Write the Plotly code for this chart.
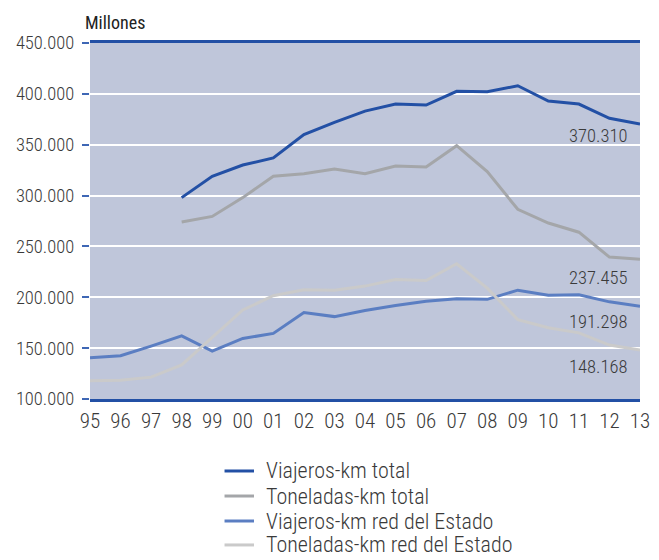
import plotly.graph_objects as go

# Years shown on the x axis and their two-digit tick labels
years = list(range(1995, 2014))
tick_labels = ["95", "96", "97", "98", "99", "00", "01", "02", "03", "04",
               "05", "06", "07", "08", "09", "10", "11", "12", "13"]

# Traffic in millions (viajeros-km / toneladas-km)
viajeros_total = [None, None, None, 298, 319, 330, 337, 360, 372, 383,
                  390, 389, 402.5, 402, 408, 393, 390, 376, 370.310]
toneladas_total = [None, None, None, 274, 279.5, 298, 319, 321.5, 326, 321.5,
                   329, 328, 349, 323.5, 286.5, 273, 264, 239.5, 237.455]
viajeros_estado = [140.5, 142.5, 152, 162, 147, 159.5, 164.5, 185, 181, 187,
                   192, 196, 198.5, 198, 207, 202, 202.5, 195.5, 191.298]
toneladas_estado = [118, 118.5, 121.5, 133.5, 160.5, 187.5, 201.5, 207.5, 207, 211,
                    217.5, 216.5, 233, 209, 178, 170, 165, 153, 148.168]

series_names = ["Viajeros-km total", "Toneladas-km total",
                "Viajeros-km red del Estado", "Toneladas-km red del Estado"]
series_values = [viajeros_total, toneladas_total, viajeros_estado, toneladas_estado]
series_colors = ["#2350a5", "#a4a6a9", "#5b7ec2", "#cacaca"]

FONT = "Roboto Condensed, Liberation Sans Narrow, sans-serif"
TEXT = "#3a3a3a"

fig = go.Figure()
for name, vals, color in zip(series_names, series_values, series_colors):
    fig.add_trace(go.Scatter(
        x=years, y=[v * 1000 if v is not None else None for v in vals],
        mode="lines", name=name,
        line=dict(color=color, width=3),
        hoverinfo="skip", showlegend=False,
    ))

# Final-year values written below the end of each line
end_offsets = [12, 19, 16, 17]
for vals, dy in zip(series_values, end_offsets):
    val = vals[-1]
    fig.add_annotation(
        x=years[-1], y=val * 1000, xref="x", yref="y",
        text=f"{val:.3f}", showarrow=False, xanchor="right", yanchor="middle",
        xshift=-11, yshift=-dy,
        font=dict(family=FONT, size=18.5, color=TEXT, weight=300),
    )

fig.add_annotation(
    x=-0.013, y=1.0, xref="paper", yref="paper", yshift=8,
    text="Millones", showarrow=False, xanchor="left", yanchor="bottom",
    font=dict(family=FONT, size=18, color="#222"),
)

# Key below the chart: a short line sample followed by the series name
key_rows = [-0.2022, -0.2725, -0.3427, -0.41]
for name, color, ky in zip(series_names, series_colors, key_rows):
    fig.add_shape(type="line", xref="paper", yref="paper",
                  x0=0.2446, x1=0.2982, y0=ky, y1=ky,
                  line=dict(color=color, width=3))
    fig.add_annotation(
        x=0.316, y=ky, xref="paper", yref="paper",
        text=name, showarrow=False, xanchor="left", yanchor="middle",
        font=dict(family=FONT, size=22, color=TEXT, weight=300),
    )

y_ticks = [100000, 150000, 200000, 250000, 300000, 350000, 400000, 450000]
y_tick_text = ["100.000", "150.000", "200.000", "250.000",
               "300.000", "350.000", "400.000", "450.000"]

fig.update_layout(
    width=659, height=560,
    margin=dict(l=90, r=9, t=43, b=161),
    paper_bgcolor="white",
    plot_bgcolor="#bfc6da",
    showlegend=False,
    xaxis=dict(
        range=[1995, 2013],
        tickvals=years, ticktext=tick_labels,
        showgrid=False, zeroline=False,
        showline=True, linecolor="#2350a5", linewidth=2.5, mirror=True,
        ticks="", ticklabelstandoff=1, ticklabeloverflow="allow",
        tickfont=dict(family=FONT, size=21, color=TEXT, weight=300),
    ),
    yaxis=dict(
        range=[100000, 450000],
        tickvals=y_ticks, ticktext=y_tick_text,
        showgrid=True, gridcolor="white", gridwidth=1.5,
        zeroline=False, showline=False,
        ticks="outside", ticklen=7, tickwidth=2, tickcolor="#3f67b5",
        ticklabelstandoff=4,
        tickfont=dict(family=FONT, size=18.5, color=TEXT, weight=300),
    ),
)

fig.write_html("out.html")
